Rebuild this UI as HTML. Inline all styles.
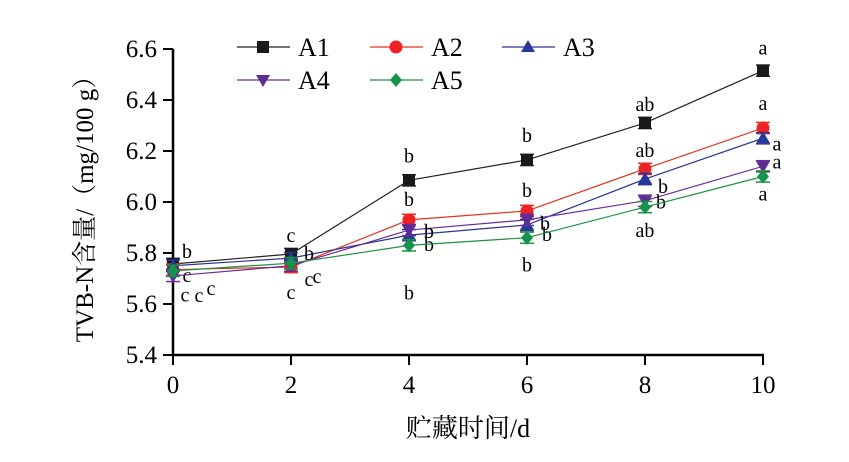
<!DOCTYPE html>
<html><head><meta charset="utf-8"><style>body{margin:0;background:#fff}svg{display:block}text{font-family:"Liberation Serif","Noto Serif CJK SC",serif}</style></head>
<body>
<svg id="c" width="849" height="462" xmlns="http://www.w3.org/2000/svg"></svg>
<script>
const days=[0,2,4,6,8,10];
const yTicks=[5.4,5.6,5.8,6.0,6.2,6.4,6.6];
const a1=[5.757,5.796,6.085,6.165,6.31,6.515];
const a2=[5.735,5.745,5.93,5.965,6.13,6.29];
const a3=[5.75,5.78,5.87,5.91,6.09,6.25];
const a4=[5.71,5.75,5.89,5.93,6.005,6.14];
const a5=[5.73,5.76,5.83,5.86,5.98,6.10];
const l1=["b","c","b","b","ab","a"];
const l2=["c","c","b","b","ab","a"];
const l3=["c","b","b","b","b","a"];
const l4=["c","c","b","b","b","a"];
const l5=["c","c","b","b","ab","a"];
const S=document.getElementById('c'),NS='http://www.w3.org/2000/svg';
const X=v=>173+v*59, Y=v=>355-(v-5.4)/1.2*306;
function mk(t,a,p){const e=document.createElementNS(NS,t);for(const k in a)e.setAttribute(k,a[k]);(p||S).appendChild(e);return e;}
const series=[{d:a1,l:l1,c:'#222',m:'sq',n:'A1'},{d:a2,l:l2,c:'#e8321e',m:'ci',n:'A2'},{d:a3,l:l3,c:'#2a3590',m:'tu',n:'A3'},{d:a4,l:l4,c:'#6a2c9a',m:'td',n:'A4'},{d:a5,l:l5,c:'#1e9040',m:'di',n:'A5'}];
const fills={'#222':'#1a1a1a','#e8321e':'#ee2222','#2a3590':'#26389a','#6a2c9a':'#5b2d95','#1e9040':'#14934a'};
function marker(g,m,x,y,c){const f=fills[c];
 if(m=='sq')mk('rect',{x:x-6,y:y-6,width:12,height:12,fill:f},g);
 else if(m=='ci')mk('circle',{cx:x,cy:y,r:6.5,fill:f},g);
 else if(m=='tu')mk('polygon',{points:`${x},${y-7} ${x+7},${y+5} ${x-7},${y+5}`,fill:f},g);
 else if(m=='td')mk('polygon',{points:`${x},${y+7} ${x+7},${y-5} ${x-7},${y-5}`,fill:f},g);
 else mk('polygon',{points:`${x},${y-7} ${x+6},${y} ${x},${y+7} ${x-6},${y}`,fill:f},g);}
const ax=mk('g',{});
mk('line',{x1:173,y1:49,x2:173,y2:356,stroke:'#000','stroke-width':2.5},ax);
mk('line',{x1:172,y1:355,x2:764,y2:355,stroke:'#000','stroke-width':2.5},ax);
yTicks.forEach(v=>{mk('line',{x1:163,y1:Y(v),x2:173,y2:Y(v),stroke:'#000','stroke-width':2},ax);
 const t=mk('text',{x:157,y:Y(v)+8,'text-anchor':'end','font-size':25},ax);t.textContent=v.toFixed(1);});
days.forEach(v=>{mk('line',{x1:X(v),y1:355,x2:X(v),y2:365,stroke:'#000','stroke-width':2},ax);
 const t=mk('text',{x:X(v),y:393,'text-anchor':'middle','font-size':25},ax);t.textContent=v;});
let t=mk('text',{x:468,y:437,'text-anchor':'middle','font-size':26});t.textContent='贮藏时间/d';

t=mk('text',{x:0,y:0,'text-anchor':'middle','font-size':25,transform:'translate(93,203) rotate(-90)'});t.textContent='TVB-N含量/（mg/100 g）';

const off=[[[14,-12],[0,-18],[0,-24],[0,-24],[0,-18],[0,-22]],
[[12,26],[0,26],[0,-20],[0,-20],[0,-18],[0,-24]],
[[14,10],[18,-4],[20,10],[20,10],[18,8],[14,6]],
[[26,20],[18,14],[20,2],[18,4],[16,2],[14,-4]],
[[38,18],[26,14],[0,48],[0,28],[0,24],[0,18]]];
series.forEach((s,si)=>{const g=mk('g',{});
 mk('polyline',{points:s.d.map((v,i)=>X(days[i])+','+Y(v)).join(' '),fill:'none',stroke:s.c,'stroke-width':1.2},g);
 s.d.forEach((v,i)=>{const x=X(days[i]),y=Y(v),e=7,er=0.022;
  mk('line',{x1:x,y1:Y(v+er),x2:x,y2:Y(v-er),stroke:s.c,'stroke-width':1.3},g);
  mk('line',{x1:x-e,y1:Y(v+er),x2:x+e,y2:Y(v+er),stroke:s.c,'stroke-width':1.5},g);
  mk('line',{x1:x-e,y1:Y(v-er),x2:x+e,y2:Y(v-er),stroke:s.c,'stroke-width':1.5},g);
  marker(g,s.m,x,y,s.c);
  const o=off[si][i];const tt=mk('text',{x:x+o[0],y:y+o[1]+6,'text-anchor':'middle','font-size':20},g);tt.textContent=s.l[i];});
});
const lg=mk('g',{});
const lp=[[237,47],[370,47],[502,47],[237,80],[370,80]];
series.forEach((s,i)=>{const [x,y]=lp[i];mk('line',{x1:x,y1:y,x2:x+53,y2:y,stroke:s.c,'stroke-width':1.2},lg);
 marker(lg,s.m,x+26,y,s.c);const tt=mk('text',{x:x+61,y:y+9,'font-size':26},lg);tt.textContent=s.n;});
</script>
</body></html>
